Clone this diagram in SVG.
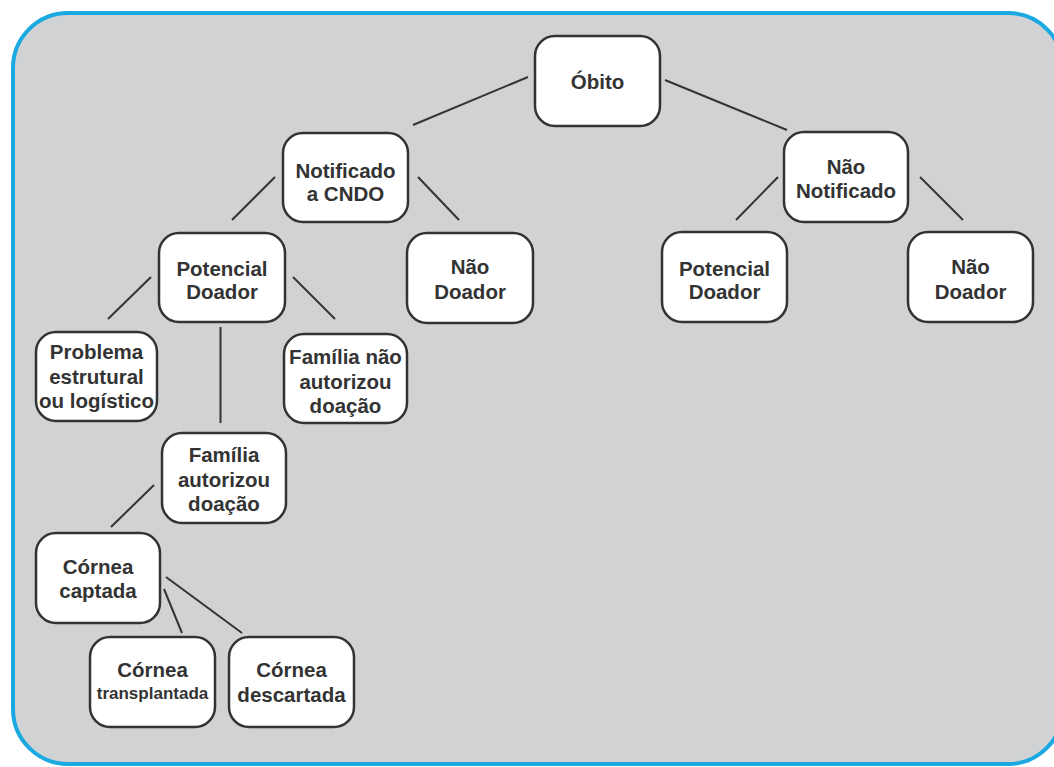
<svg xmlns="http://www.w3.org/2000/svg" width="1054" height="767" viewBox="0 0 1054 767">
<defs>
<style>
.bg{fill:#d1d2d4;stroke:#1ba9e1;stroke-width:4}
.box{fill:#fff;stroke:#333;stroke-width:2.5}
.t{font-family:"Liberation Sans",Arial,sans-serif;font-weight:bold;font-size:20.5px;fill:#333;text-anchor:middle}
.s{font-size:17px}
.c line{stroke:#333;stroke-width:2}
</style>
</defs>
<rect width="1054" height="767" fill="#fff"/>
<rect class="bg" x="13" y="13" width="1050" height="751" rx="55"/>
<g class="c" id="connectors">
<line x1="528" y1="77" x2="413" y2="125"/>
<line x1="665" y1="80" x2="787" y2="130"/>
<line x1="275" y1="177" x2="232" y2="220"/>
<line x1="418" y1="177" x2="459" y2="220"/>
<line x1="778" y1="177" x2="736" y2="220"/>
<line x1="920" y1="177" x2="963" y2="220"/>
<line x1="151" y1="277" x2="108" y2="319"/>
<line x1="293" y1="277" x2="335" y2="319"/>
<line x1="220.5" y1="327" x2="220.5" y2="423"/>
<line x1="154" y1="485" x2="111" y2="527"/>
<line x1="166" y1="577" x2="242" y2="633"/>
<line x1="164" y1="589" x2="182" y2="633"/>
</g>
<g id="obito"><rect class="box" x="535" y="36" width="125" height="90" rx="20"/><text class="t" x="597.5" y="89">Óbito</text></g>
<g id="notificado"><rect class="box" x="283" y="133" width="125" height="89" rx="20"/><text class="t" x="345.5" y="178">Notificado</text><text class="t" x="345.5" y="201">a CNDO</text></g>
<g id="nao-notificado"><rect class="box" x="784" y="132" width="124" height="90" rx="20"/><text class="t" x="846" y="174">Não</text><text class="t" x="846" y="198">Notificado</text></g>
<g id="potencial-doador-1"><rect class="box" x="159" y="233" width="126" height="89" rx="20"/><text class="t" x="222" y="276">Potencial</text><text class="t" x="222" y="299">Doador</text></g>
<g id="nao-doador-1"><rect class="box" x="407" y="233" width="126" height="90" rx="20"/><text class="t" x="470" y="274">Não</text><text class="t" x="470" y="299">Doador</text></g>
<g id="potencial-doador-2"><rect class="box" x="662" y="232" width="125" height="90" rx="20"/><text class="t" x="724.5" y="276">Potencial</text><text class="t" x="724.5" y="299">Doador</text></g>
<g id="nao-doador-2"><rect class="box" x="908" y="232" width="125" height="90" rx="20"/><text class="t" x="970.5" y="274">Não</text><text class="t" x="970.5" y="299">Doador</text></g>
<g id="problema"><rect class="box" x="36" y="332" width="121" height="89" rx="20"/><text class="t" x="96.5" y="359">Problema</text><text class="t" x="96.5" y="384">estrutural</text><text class="t" x="96.5" y="408">ou logístico</text></g>
<g id="familia-nao"><rect class="box" x="284" y="334" width="123" height="89" rx="20"/><text class="t" x="345.5" y="364">Família não</text><text class="t" x="345.5" y="389">autorizou</text><text class="t" x="345.5" y="413">doação</text></g>
<g id="familia-autorizou"><rect class="box" x="162" y="433" width="124" height="90" rx="20"/><text class="t" x="224" y="462">Família</text><text class="t" x="224" y="487">autorizou</text><text class="t" x="224" y="511">doação</text></g>
<g id="cornea-captada"><rect class="box" x="36" y="533" width="124" height="90" rx="20"/><text class="t" x="98" y="574">Córnea</text><text class="t" x="98" y="598">captada</text></g>
<g id="cornea-transplantada"><rect class="box" x="90" y="637" width="125" height="90" rx="20"/><text class="t" x="152.5" y="677">Córnea</text><text class="t s" x="152.5" y="699">transplantada</text></g>
<g id="cornea-descartada"><rect class="box" x="229" y="637" width="125" height="90" rx="20"/><text class="t" x="291.5" y="677">Córnea</text><text class="t" x="291.5" y="702">descartada</text></g>
</svg>
